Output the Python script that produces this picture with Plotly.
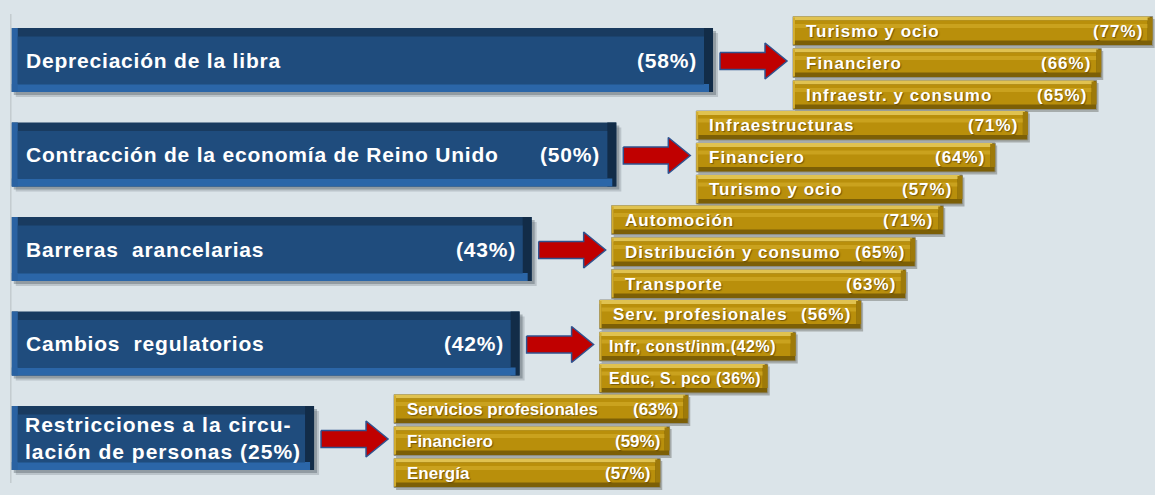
import plotly.graph_objects as go

# ---------------- data ----------------
factors = [
    "Depreciación de la libra",
    "Contracción de la economía de Reino Unido",
    "Barreras  arancelarias",
    "Cambios  regulatorios",
    "Restricciones a la circu-<br>lación de personas",
]
factor_pct = [58, 50, 43, 42, 25]

sectors = [
    ["Turismo y ocio", "Financiero", "Infraestr. y consumo"],
    ["Infraestructuras", "Financiero", "Turismo y ocio"],
    ["Automoción", "Distribución y consumo", "Transporte"],
    ["Serv. profesionales", "Infr, const/inm.", "Educ, S. pco"],
    ["Servicios profesionales", "Financiero", "Energía"],
]
sector_pct = [
    [77, 66, 65],
    [71, 64, 57],
    [71, 65, 63],
    [56, 42, 36],
    [63, 59, 57],
]

# ---------------- layout constants ----------------
W, H = 1155, 495
PX_X = 12.09      # px per % on the factor scale
X0_PX = 11.8      # px where 0 % sits
PX_Y = 94.5       # px between factor rows
Y0_PX = 60        # px of first row centre
GOLD_PX = 4.67    # px per % on the sector scale
GAP_PX = 80       # px between factor bar end and sector bars
ROW_OFF = [-29, 3, 35]  # px offsets of sector rows
BLUE_H = 64
GOLD_H = 29
BG = "#dbe4e9"


def ux(p):
    return p / PX_X


def uy(p):
    return p / PX_Y


fig = go.Figure()


def layer(y, base, length, h_px, color, line=None):
    fig.add_trace(go.Bar(
        orientation="h", y=y, x=length, base=base,
        width=[uy(h_px)] * len(y),
        marker=dict(color=color, line=line or dict(width=0)),
        hoverinfo="skip", showlegend=False,
    ))


n = len(factors)
rows = list(range(n))
v = factor_pct

# ----- factor (blue) bars with bevel -----
layer([r + uy(5) for r in rows], [ux(4)] * n, [x + ux(1) for x in v], BLUE_H, "rgba(90,100,110,0.25)")
layer([r + uy(3) for r in rows], [ux(2)] * n, [x + ux(1) for x in v], BLUE_H, "rgba(70,80,90,0.35)")
layer(rows, [0] * n, v, BLUE_H, "#193b60")
layer(rows, [x - ux(9) for x in v], [ux(9)] * n, BLUE_H, "#122c48")
layer([r + uy(BLUE_H / 2 - 4) for r in rows], [0] * n, [x - ux(4) for x in v], 8, "#2b66a8")
layer(rows, [0] * n, [ux(6)] * n, BLUE_H, "#2a62a2")
layer([r + uy(0.5) for r in rows], [ux(6)] * n, [x - ux(15) for x in v], BLUE_H - 16, "#1f4c7d")

# ----- sector (gold) bars -----
gy, gb, gl = [], [], []
for i in range(n):
    start = v[i] + ux(GAP_PX)
    for j, g in enumerate(sector_pct[i]):
        gy.append(i + uy(ROW_OFF[j]))
        gb.append(start)
        gl.append(g * GOLD_PX / PX_X)
m = len(gy)
layer([y + uy(2.5) for y in gy], [b + ux(2) for b in gb], gl, GOLD_H, "rgba(70,70,60,0.35)")
layer(gy, gb, gl, GOLD_H, "#7c5f06", line=dict(width=1, color="#8f8f82"))
layer([y - uy(GOLD_H / 2 - 2) for y in gy], gb, [L - ux(3) for L in gl], 4, "#e0c250")
layer([y - uy(0.5) for y in gy], [b + ux(2) for b in gb], [L - ux(7) for L in gl], GOLD_H - 9, "#b98f0b")
layer([y - uy(5) for y in gy], [b + ux(2) for b in gb], [L - ux(7) for L in gl], 4, "#caa21e")
layer(gy, gb, [ux(2)] * m, GOLD_H - 2, "#d3ad30")
layer([y - uy(2) for y in gy], [b + L - ux(5) for b, L in zip(gb, gl)], [ux(5)] * m, GOLD_H - 6, "#9e7a0a")

# ----- arrows -----
ax, ay = [], []
for i in range(n):
    a0 = v[i] + ux(7)
    a2 = v[i] + ux(GAP_PX) - ux(6)
    a1 = a2 - ux(22)
    c = i + uy(1)
    sh, hh = uy(8.5), uy(18)
    ax += [a0, a1, a1, a2, a1, a1, a0, a0, None]
    ay += [c - sh, c - sh, c - hh, c, c + hh, c + sh, c + sh, c - sh, None]
fig.add_trace(go.Scatter(
    x=ax, y=ay, mode="lines", fill="toself", fillcolor="#c00000",
    line=dict(color="#2f528f", width=1.5), hoverinfo="skip", showlegend=False,
))

# ----- texts -----
FAM = "Liberation Sans, Arial, sans-serif"
BLUE_FONT = dict(family=FAM, size=21, color="white")
GOLD_FONT = dict(family=FAM, size=17, color="white", shadow="1px 1px 1px rgba(60,40,0,0.55)")
SMALL_FONT = dict(family=FAM, size=16, color="white", shadow="1px 1px 1px rgba(60,40,0,0.55)")


def styled(t, ls):
    return f'<b><span style="letter-spacing:{ls}px">{t}</span></b>'


annotations = []
for i in range(n):
    pct = f"({v[i]}%)"
    if "<br>" in factors[i]:
        annotations.append(dict(x=ux(11), y=i, text=styled(f"{factors[i]} {pct}", 1.0),
                                xanchor="left", yanchor="middle", align="left",
                                font=BLUE_FONT, showarrow=False))
    else:
        annotations.append(dict(x=ux(12), y=i, text=styled(factors[i], 0.8),
                                xanchor="left", yanchor="middle", font=BLUE_FONT, showarrow=False))
        annotations.append(dict(x=v[i] - ux(14), y=i, text=styled(pct, 0.8),
                                xanchor="right", yanchor="middle", font=BLUE_FONT, showarrow=False))

k = 0
for i in range(n):
    last = i == n - 1
    for j, name in enumerate(sectors[i]):
        y, b, L = gy[k], gb[k], gl[k]
        pct = f"({sector_pct[i][j]}%)"
        L_px = L * PX_X
        if last:
            font, ls = GOLD_FONT, 0
        else:
            font, ls = GOLD_FONT, 1.0
        if len(name) + len(pct) > L_px / 10:
            # not enough room: write name and share as one string
            annotations.append(dict(x=b + ux(7), y=y, text=styled(f"{name}{pct}" if name.endswith(".") else f"{name} {pct}", 0.5),
                                    xanchor="left", yanchor="middle", font=SMALL_FONT, showarrow=False))
        else:
            annotations.append(dict(x=b + ux(11), y=y, text=styled(name, ls), xanchor="left",
                                    yanchor="middle", font=font, showarrow=False))
            annotations.append(dict(x=b + L - ux(8), y=y, text=styled(pct, ls),
                                    xanchor="right", yanchor="middle", font=font, showarrow=False))
        k += 1

fig.update_layout(
    width=W, height=H,
    margin=dict(l=0, r=0, t=0, b=0),
    paper_bgcolor=BG, plot_bgcolor=BG,
    barmode="overlay",
    xaxis=dict(range=[-X0_PX / PX_X, (W - X0_PX) / PX_X], visible=False, fixedrange=True),
    yaxis=dict(range=[(H - Y0_PX) / PX_Y, -Y0_PX / PX_Y], visible=False, fixedrange=True),
    annotations=annotations,
    shapes=[dict(type="line", xref="x", yref="y", x0=ux(-1), x1=ux(-1),
                 y0=uy(14 - Y0_PX), y1=uy(483 - Y0_PX), line=dict(color="#c3cbcf", width=1.5),
                 layer="below")],
)

fig.write_html("out.html", config={"displayModeBar": False},
               post_script="document.body.style.margin='0';document.body.style.overflow='hidden';")
